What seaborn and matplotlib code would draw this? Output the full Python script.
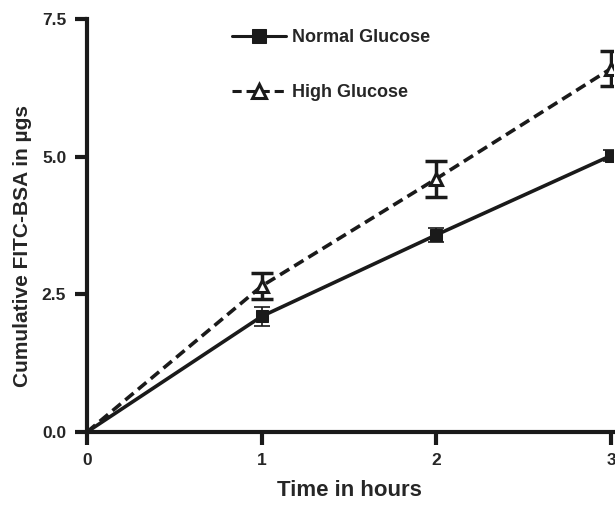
import numpy as np
import pandas as pd
import seaborn as sns
import matplotlib.pyplot as plt

# values
hours = [0, 1, 2, 3]
normal = [0.0, 2.1, 3.58, 5.02]
normal_err = [0.0, 0.17, 0.13, 0.1]
high = [0.0, 2.65, 4.6, 6.6]
high_err = [0.0, 0.23, 0.33, 0.31]

df = pd.DataFrame({
    'Time': hours * 2,
    'FITC': normal + high,
    'err': normal_err + high_err,
    'Group': ['Normal Glucose'] * 4 + ['High Glucose'] * 4,
})

sns.set_style('ticks')
plt.rcParams['font.family'] = ['Liberation Sans', 'DejaVu Sans']
plt.rcParams['font.weight'] = 'bold'

fig = plt.figure(figsize=(6.15, 5.05), dpi=100)
ax = fig.add_axes([0.1415, 0.1446, 0.855, 0.8178])

ax.errorbar(hours, normal, yerr=normal_err, fmt='none', ecolor='#1a1a1a',
            elinewidth=1.2, capsize=6, capthick=1.2, zorder=2)
ax.errorbar(hours, high, yerr=high_err, fmt='none', ecolor='#1a1a1a',
            elinewidth=2.5, capsize=8, capthick=2.5, zorder=2)

sns.lineplot(data=df, x='Time', y='FITC', hue='Group', style='Group',
             hue_order=['Normal Glucose', 'High Glucose'],
             palette=['#1a1a1a', '#1a1a1a'],
             dashes={'Normal Glucose': '', 'High Glucose': (3, 1.6)},
             markers={'Normal Glucose': 's', 'High Glucose': '^'},
             linewidth=2.6, markersize=9, ax=ax, zorder=3)

# style markers: filled square, open triangle
for line in ax.get_lines():
    if line.get_marker() == '^':
        line.set_markerfacecolor('white')
        line.set_markeredgecolor('#1a1a1a')
        line.set_markeredgewidth(2.2)
    elif line.get_marker() == 's':
        line.set_markerfacecolor('#1a1a1a')
        line.set_markeredgecolor('#1a1a1a')

# hide marker at origin
for line in ax.get_lines():
    if line.get_marker() in ('s', '^'):
        line.set_markevery([1, 2, 3])

ax.set_xlim(0, 3.01)
ax.set_ylim(0, 7.5)
ax.set_xticks([0, 1, 2, 3])
ax.set_yticks([0, 2.5, 5.0, 7.5])
ax.set_yticklabels(['0.0', '2.5', '5.0', '7.5'])
ax.tick_params(width=3, length=9, labelsize=12.5, color='#1a1a1a', pad=6)
for lab in ax.get_xticklabels() + ax.get_yticklabels():
    lab.set_fontweight('bold')
for s in ['left', 'bottom']:
    ax.spines[s].set_linewidth(3)
    ax.spines[s].set_color('#1a1a1a')
sns.despine(ax=ax)

ax.set_xlabel('Time in hours', fontsize=16, fontweight='bold', labelpad=9)
ax.set_ylabel('Cumulative FITC-BSA in µgs', fontsize=15, fontweight='bold')
ax.yaxis.set_label_coords(-0.105, 0.45)

leg = ax.legend(title=None, loc='upper left', bbox_to_anchor=(0.245, 1.015),
                frameon=False, handlelength=3, labelspacing=2.1,
                handletextpad=0.3, prop={'weight': 'bold', 'size': 13})
for h in leg.get_lines():
    h.set_linewidth(2.2)
    h.set_markersize(10)

fig.savefig('out.png', dpi=100)
